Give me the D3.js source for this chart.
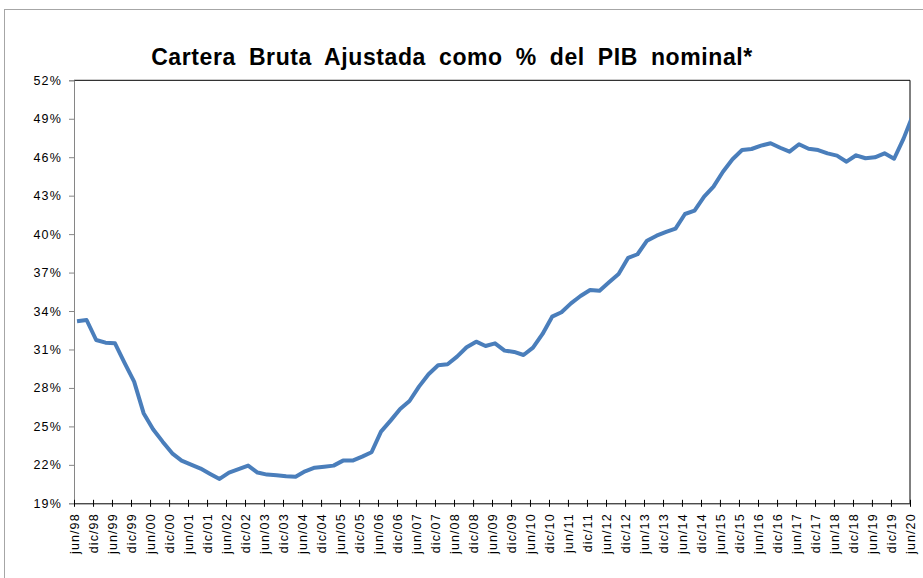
<!DOCTYPE html>
<html>
<head>
<meta charset="utf-8">
<script src="https://cdn.jsdelivr.net/npm/d3@7"></script>
<style>
  html, body { margin: 0; padding: 0; background: #fff; }
  svg { display: block; font-family: "Liberation Sans", Arial, sans-serif; }
</style>
</head>
<body>
<svg id="chart" width="923" height="578"></svg>
<script>
// Cartera bruta ajustada como % del PIB nominal, dato trimestral (fin de trimestre), jun/98 - jun/20
const startQuarterEnd = new Date(1998, 6, 0);   // 30 jun 1998
const carteraPIB = [
  33.20, 33.30, 31.74, 31.53, 31.48, 29.95, 28.49, 26.03, 24.78, 23.81,
  22.90, 22.33, 22.02, 21.71, 21.29, 20.90, 21.39, 21.66, 21.94, 21.40,
  21.24, 21.19, 21.11, 21.08, 21.50, 21.78, 21.86, 21.94, 22.33, 22.33,
  22.64, 22.98, 24.59, 25.45, 26.36, 26.98, 28.10, 29.07, 29.77, 29.85,
  30.44, 31.17, 31.61, 31.27, 31.48, 30.91, 30.81, 30.57, 31.14, 32.21,
  33.56, 33.90, 34.60, 35.17, 35.64, 35.59, 36.24, 36.89, 38.15, 38.43,
  39.49, 39.88, 40.17, 40.43, 41.57, 41.83, 42.92, 43.70, 44.87, 45.84,
  46.56, 46.64, 46.90, 47.09, 46.74, 46.43, 47.01, 46.66, 46.56, 46.30,
  46.12, 45.65, 46.15, 45.92, 45.99, 46.30, 45.88, 47.45, 49.30
];
// fechas de cada trimestre (último día del mes de cierre)
const quarterDates = carteraPIB.map((_, i) =>
  new Date(startQuarterEnd.getFullYear(), startQuarterEnd.getMonth() + 1 + 3 * i, 0));

const mesesAbrev = ["ene","feb","mar","abr","may","jun","jul","ago","sep","oct","nov","dic"];
const yTicks = [19, 22, 25, 28, 31, 34, 37, 40, 43, 46, 49, 52];
const axisStart = new Date(1998, 5, 1);
const axisEnd = new Date(2020, 5, 1);
const xTicks = d3.timeMonth.range(axisStart, new Date(2020, 5, 2), 6);
const titulo = "Cartera Bruta Ajustada como % del PIB nominal*";

const svg = d3.select("#chart");
const plot = { left: 74, right: 910, top: 80.3, bottom: 503.3 };

// marco exterior del gráfico
svg.append("rect")
  .attr("x", 4.5).attr("y", 9.5).attr("width", 940).attr("height", 600)
  .attr("fill", "#fff").attr("stroke", "#a6a6a6").attr("stroke-width", 1);

const x = d3.scaleTime().domain([axisStart, axisEnd]).range([plot.left, plot.right]);
const y = d3.scaleLinear().domain([19, 52]).range([plot.bottom, plot.top]);

// título
svg.append("text")
  .attr("x", 452).attr("y", 65)
  .attr("text-anchor", "middle")
  .attr("font-size", 23).attr("font-weight", "bold")
  .attr("letter-spacing", 0.6)
  .attr("word-spacing", 6)
  .attr("fill", "#000")
  .text(titulo);

// borde superior y derecho del área de trazado
svg.append("path")
  .attr("d", `M${plot.left},${plot.top}H${plot.right}V${plot.bottom}`)
  .attr("fill", "none").attr("stroke", "#000").attr("stroke-width", 1);

// eje Y
const yAxis = svg.append("g")
  .attr("transform", `translate(${plot.left},0)`)
  .call(d3.axisLeft(y).tickValues(yTicks).tickSize(5).tickPadding(7)
    .tickFormat(d => d + "%"));
yAxis.select(".domain").attr("stroke", "#868686");
yAxis.selectAll(".tick line").attr("stroke", "#868686");
yAxis.selectAll(".tick text")
  .attr("font-size", 12.5).attr("letter-spacing", 1.2)
  .attr("fill", "#000").attr("font-family", "Liberation Sans, Arial, sans-serif");

// eje X
const xAxis = svg.append("g")
  .attr("transform", `translate(0,${plot.bottom})`)
  .call(d3.axisBottom(x).tickValues(xTicks).tickSize(0)
    .tickFormat(d => mesesAbrev[d.getMonth()] + "/" + d3.timeFormat("%y")(d)));
xAxis.select(".domain").attr("stroke", "#000");
xAxis.selectAll(".tick line")
  .attr("y1", -3.5).attr("y2", 3.5).attr("stroke", "#000");
xAxis.selectAll(".tick text")
  .attr("transform", "rotate(-90)")
  .attr("text-anchor", "end")
  .attr("x", -10).attr("y", 0).attr("dy", "0.35em")
  .attr("font-size", 12.5).attr("letter-spacing", 1.1)
  .attr("fill", "#000").attr("font-family", "Liberation Sans, Arial, sans-serif");

// serie
svg.append("clipPath").attr("id", "plot-clip")
  .append("rect")
  .attr("x", plot.left).attr("y", plot.top - 20)
  .attr("width", plot.right - plot.left).attr("height", plot.bottom - plot.top + 40);

const line = d3.line()
  .x((d, i) => x(quarterDates[i]))
  .y(d => y(d));

svg.append("path")
  .datum(carteraPIB)
  .attr("clip-path", "url(#plot-clip)")
  .attr("fill", "none")
  .attr("stroke", "#4a7ebb")
  .attr("stroke-width", 4)
  .attr("stroke-linejoin", "round")
  .attr("d", line);
</script>
</body>
</html>
